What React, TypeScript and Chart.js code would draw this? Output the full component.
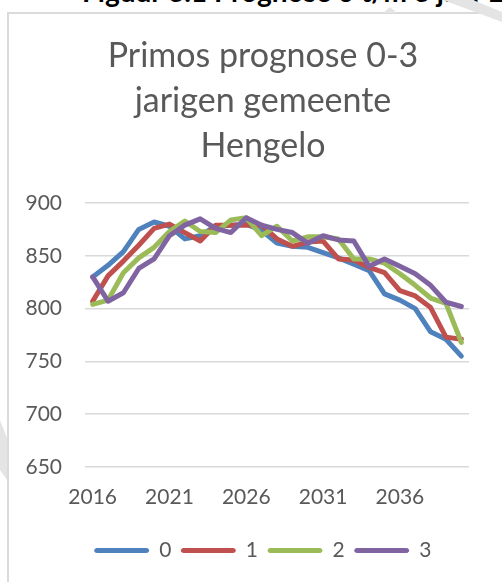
import React, { useEffect, useRef } from 'react';
import { Chart, registerables } from 'chart.js';

Chart.register(...registerables);

const years = ['2016', '2017', '2018', '2019', '2020', '2021', '2022', '2023', '2024', '2025', '2026', '2027', '2028', '2029', '2030', '2031', '2032', '2033', '2034', '2035', '2036', '2037', '2038', '2039', '2040'];
const seriesNames = ['0', '1', '2', '3'];
const age0 = [830, 841, 854, 875, 882, 878, 866, 869, 878, 879, 880, 874, 862, 859, 858, 853, 848, 842, 836, 814, 808, 800, 778, 771, 755];
const age1 = [807, 831, 845, 860, 876, 880, 872, 864, 879, 879, 879, 879, 866, 859, 863, 864, 847, 846, 839, 834, 817, 812, 801, 773, 771];
const age2 = [804, 808, 834, 848, 858, 873, 883, 873, 872, 884, 886, 869, 878, 864, 868, 868, 866, 847, 847, 843, 833, 822, 810, 805, 768];
const age3 = [830, 807, 815, 838, 847, 869, 879, 885, 876, 872, 886, 879, 875, 872, 862, 869, 865, 864, 840, 847, 840, 833, 822, 806, 802];
const seriesColors = ['#4F81BD', '#C0504D', '#9BBB59', '#8064A2'];
const titleLines = ['Primos prognose 0-3', 'jarigen gemeente', 'Hengelo'];
const yMin = 650;
const yMax = 900;
const yStep = 50;
const labelEvery = 5;
const pageHeading = 'Figuur 3.1 Prognose 0 t/m 3 jaar 2016-2040';

export default function App() {
  const ref = useRef<HTMLCanvasElement>(null);

  useEffect(() => {
    let chart: Chart | null = null;
    let cancelled = false;
    const make = () => {
      if (cancelled || !ref.current) return;
      const allSeries = [age0, age1, age2, age3];
      chart = new Chart(ref.current, {
        type: 'line',
        data: {
          labels: years,
          datasets: allSeries.map((d, i) => ({
            label: seriesNames[i],
            data: d,
            borderColor: seriesColors[i],
            backgroundColor: seriesColors[i],
            borderWidth: 5,
            pointRadius: 0,
            pointHoverRadius: 0,
            tension: 0,
            borderJoinStyle: 'round' as const,
            borderCapStyle: 'round' as const,
            order: allSeries.length - 1 - i,
            yAxisID: 'y',
          })),
        },
        options: {
          responsive: false,
          animation: false,
          devicePixelRatio: 1,
          layout: { padding: { top: 0, bottom: 0, left: 0, right: 0 } },
          plugins: {
            tooltip: { enabled: false },
            title: {
              display: true,
              text: titleLines,
              color: '#595959',
              font: { family: 'Lato', size: 34, weight: 'normal', lineHeight: 45 / 34 },
              padding: { top: 20, bottom: 34 },
            },
            legend: {
              display: true,
              position: 'bottom',
              labels: {
                color: '#595959',
                font: { family: 'Lato', size: 21 },
                boxWidth: 54,
                boxHeight: 4,
                padding: 10,
                useBorderRadius: true,
                borderRadius: 2,
                sort: (a: any, b: any) => a.datasetIndex - b.datasetIndex,
                generateLabels: (c: Chart) =>
                  Chart.defaults.plugins.legend.labels.generateLabels(c).map((it: any) => ({
                    ...it,
                    lineWidth: 1,
                    strokeStyle: it.fillStyle,
                  })),
              },
            },
          },
          scales: {
            x: {
              type: 'category',
              offset: true,
              grid: { display: false, drawTicks: false },
              border: { display: false },
              ticks: {
                autoSkip: false,
                maxRotation: 0,
                minRotation: 0,
                padding: 18,
                color: '#595959',
                font: { family: 'Lato', size: 21 },
                callback: (_v: any, idx: number) => (idx % labelEvery === 0 ? years[idx] : null),
              },
              afterFit: (s: any) => {
                s.height = 63;
              },
            },
            y: {
              type: 'linear',
              position: 'left',
              min: yMin,
              max: yMax,
              ticks: {
                stepSize: yStep,
                padding: 23,
                color: '#595959',
                font: { family: 'Lato', size: 21 },
              },
              grid: { color: '#D9D9D9', lineWidth: 1.5, drawTicks: false },
              border: { display: false },
              afterFit: (s: any) => {
                s.width = 75;
              },
            },
            yr: {
              type: 'linear',
              position: 'right',
              display: true,
              grid: { display: false, drawTicks: false },
              border: { display: false },
              ticks: { display: false },
              afterFit: (s: any) => {
                s.width = 47;
              },
            },
          },
        },
      } as any);
    };
    const fonts = (document as any).fonts;
    if (fonts && fonts.load) {
      Promise.all([fonts.load('21px Lato'), fonts.load('bold 28px Lato')]).then(make, make);
    } else {
      make();
    }
    return () => {
      cancelled = true;
      if (chart) chart.destroy();
    };
  }, []);

  return (
    <div
      style={{
        position: 'fixed',
        left: 0,
        top: 0,
        width: 502,
        height: 582,
        overflow: 'hidden',
        background: '#ffffff',
      }}
    >
      <div
        style={{
          position: 'absolute',
          left: 82,
          top: -23,
          whiteSpace: 'nowrap',
          fontFamily: 'Lato',
          fontWeight: 'bold',
          fontSize: 28,
          lineHeight: '28px',
          color: '#000000',
        }}
      >
        {pageHeading}
      </div>
      <div
        style={{
          position: 'absolute',
          left: 7,
          top: 12,
          width: 620,
          height: 700,
          border: '2px solid #dadada',
          background: '#ffffff',
        }}
      />
      <canvas
        ref={ref}
        width={506}
        height={557}
        style={{ position: 'absolute', left: 10, top: 14, width: 506, height: 557 }}
      />
      <div
        style={{
          position: 'absolute',
          left: 0,
          top: 0,
          width: 502,
          height: 582,
          background: '#e4e4e4',
          clipPath: 'polygon(443px 0px, 473px 0px, 502px 12px, 502px 22px)',
          pointerEvents: 'none',
        }}
      />
      <div
        style={{
          position: 'absolute',
          left: 0,
          top: 0,
          width: 502,
          height: 582,
          background: '#e4e4e4',
          clipPath: 'polygon(383px 13px, 390px 7px, 397px 13px)',
          pointerEvents: 'none',
        }}
      />
      <div
        style={{
          position: 'absolute',
          left: 0,
          top: 0,
          width: 502,
          height: 582,
          background: '#e4e4e4',
          clipPath: 'polygon(0px 420px, 7px 438px, 7px 480px, 0px 470px)',
          pointerEvents: 'none',
        }}
      />
    </div>
  );
}
